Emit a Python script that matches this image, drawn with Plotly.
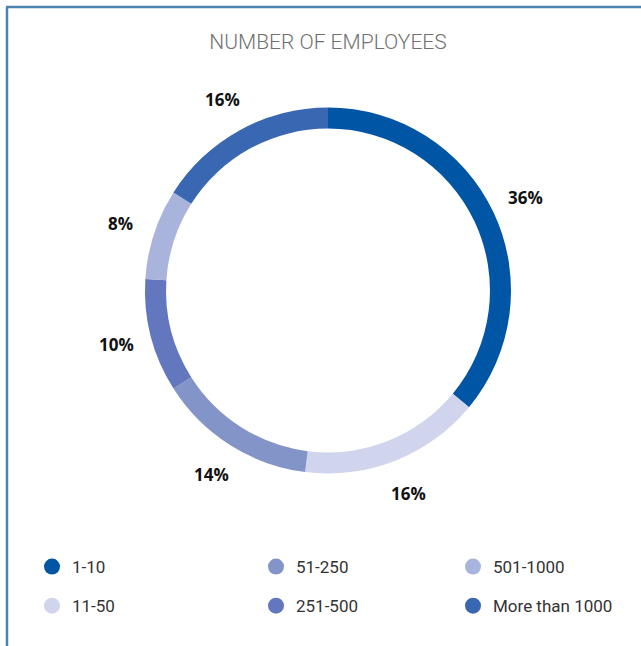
import math
import plotly.graph_objects as go

categories = ["1-10", "11-50", "51-250", "251-500", "501-1000", "More than 1000"]
shares = [36, 16, 14, 10, 8, 16]
colors = ["#0055a5", "#d0d4ec", "#8394c9", "#6277bd", "#a8b4dc", "#3a67b2"]
pct_labels = [f"{v}%" for v in shares]
legend_columns = [["1-10", "11-50"], ["51-250", "251-500"], ["501-1000", "More than 1000"]]

W, H = 641, 646
CX, CY, R = 328, 290.5, 183
LABEL_R = 218

fig = go.Figure()
fig.add_trace(go.Pie(
    labels=categories, values=shares, sort=False, direction="clockwise", rotation=0,
    hole=0.885, marker=dict(colors=colors, line=dict(width=0)),
    textinfo="none", hoverinfo="label+percent", showlegend=False,
    domain=dict(x=[(CX - R) / W, (CX + R) / W], y=[1 - (CY + R) / H, 1 - (CY - R) / H]),
))

# percentage labels placed at the middle angle of each slice
total = sum(shares)
cum = 0
for v, lab in zip(shares, pct_labels):
    mid = (cum + v / 2) / total * 2 * math.pi
    cum += v
    px = CX + LABEL_R * math.sin(mid)
    py = CY - LABEL_R * math.cos(mid)
    fig.add_annotation(x=px / W, y=1 - py / H, xref="paper", yref="paper", text=lab,
                       xanchor="center", yanchor="middle", showarrow=False,
                       font=dict(family="Open Sans", size=17, color="#111111", weight="bold"))

# legend entries as marker traces in three column legends
legend_ids = ["legend", "legend2", "legend3"]
col_x = [32, 256, 453]
for col, (lid, names) in enumerate(zip(legend_ids, legend_columns)):
    for name in names:
        i = categories.index(name)
        fig.add_trace(go.Scatter(x=[None], y=[None], mode="markers", name=name,
                                 marker=dict(symbol="circle", size=22, color=colors[i]),
                                 legend=lid, legendgroup=name, showlegend=True))

legend_common = dict(orientation="v", tracegroupgap=14, bgcolor="rgba(0,0,0,0)",
                     font=dict(family="Roboto", size=17, color="#333333"),
                     xanchor="left", yanchor="top", itemwidth=30)
layout_legends = {}
for lid, x0 in zip(legend_ids, col_x):
    layout_legends[lid] = dict(legend_common, x=x0 / W, y=1 - 549 / H)

fig.update_layout(
    width=W, height=H, margin=dict(l=0, r=0, t=0, b=0),
    paper_bgcolor="white", plot_bgcolor="white",
    xaxis=dict(visible=False), yaxis=dict(visible=False),
    title=dict(text="NUMBER OF EMPLOYEES", x=CX / W, xanchor="center", y=1 - 42 / H, yanchor="middle",
               font=dict(family="Roboto", size=21, color="#707070", weight=300)),
    shapes=[
        dict(type="line", xref="paper", yref="paper", x0=7 / W, x1=7 / W, y0=0, y1=1 - 7 / H,
             line=dict(color="#4b86b0", width=2.5)),
        dict(type="line", xref="paper", yref="paper", x0=6 / W, x1=1, y0=1 - 7 / H, y1=1 - 7 / H,
             line=dict(color="#4b86b0", width=2.5)),
    ],
    **layout_legends,
)

fig.write_html("out.html", config={"displayModeBar": False},
               post_script="document.body.style.margin='0';")
